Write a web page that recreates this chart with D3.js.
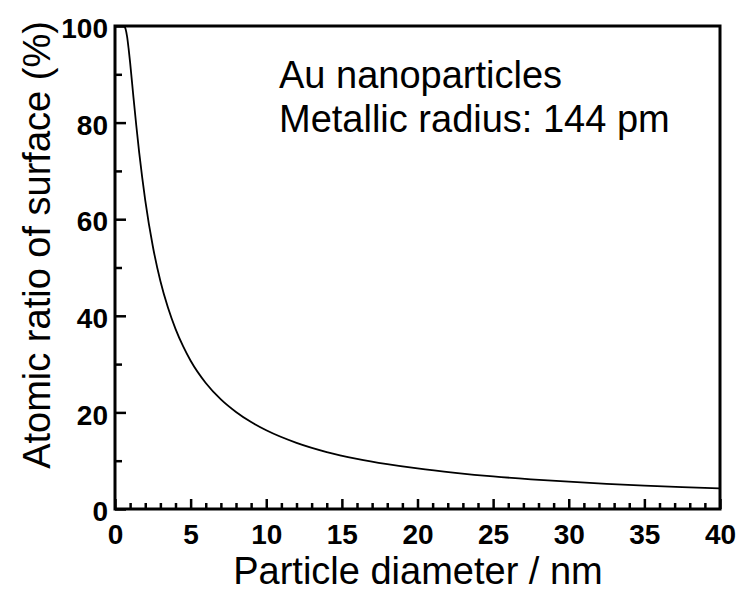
<!DOCTYPE html>
<html>
<head>
<meta charset="utf-8">
<script src="https://cdn.jsdelivr.net/npm/d3@7"></script>
<style>
  html, body { margin: 0; padding: 0; background: #fff; }
  svg { display: block; font-family: "Liberation Sans", Arial, sans-serif; }
</style>
</head>
<body>
<svg id="chart" width="740" height="594"></svg>
<script>
// Data
const diameters = [0.6, 0.7, 0.8, 0.9, 1.0, 1.2, 1.4, 1.6, 1.8, 2.0, 2.5, 3.0, 3.5, 4.0, 4.5, 5.0,
                   6, 7, 8, 9, 10, 12, 14, 16, 18, 20, 22.5, 25, 27.5, 30, 32.5, 35, 37.5, 40];
const surfaceRatio = [99.99, 99.4, 97.8, 95.3, 92.4, 85.9, 79.6, 73.8, 68.6, 63.9, 54.4, 47.2, 41.7, 37.3, 33.7, 30.7,
                      26.1, 22.7, 20.1, 18.0, 16.3, 13.7, 11.8, 10.4, 9.3, 8.4, 7.5, 6.75, 6.15, 5.65, 5.22, 4.86, 4.54, 4.26];
const xTicks = [0, 5, 10, 15, 20, 25, 30, 35, 40];
const yTicks = [0, 20, 40, 60, 80, 100];
const xMinorTicks = d3.range(0, 41, 1).filter(v => v % 5 !== 0);
const yMinorTicks = [10, 30, 50, 70, 90];
const annotationLines = ["Au nanoparticles", "Metallic radius: 144 pm"];
const xTitle = "Particle diameter / nm";
const yTitle = "Atomic ratio of surface (%)";

const svg = d3.select("#chart");
const pL = 115, pR = 720, pT = 26, pB = 509;

const x = d3.scaleLinear().domain([0, 40]).range([pL, pR]);
const y = d3.scaleLinear().domain([0, 100]).range([pB, pT]);

svg.append("defs").append("clipPath").attr("id", "plotclip")
  .append("rect").attr("x", pL).attr("y", pT).attr("width", pR - pL).attr("height", pB - pT);

// Curve
const pts = diameters.map((d, i) => [d, surfaceRatio[i]]);
svg.append("path")
  .datum(pts)
  .attr("clip-path", "url(#plotclip)")
  .attr("fill", "none")
  .attr("stroke", "#000")
  .attr("stroke-width", 1.8)
  .attr("d", d3.line().x(d => x(d[0])).y(d => y(d[1])).curve(d3.curveMonotoneX));

// Frame
svg.append("rect")
  .attr("x", pL).attr("y", pT).attr("width", pR - pL).attr("height", pB - pT)
  .attr("fill", "none").attr("stroke", "#000").attr("stroke-width", 3);

// X axis major
const xAxis = svg.append("g").attr("transform", `translate(0,${pB})`)
  .call(d3.axisBottom(x).tickValues(xTicks).tickSizeInner(-10).tickSizeOuter(0).tickPadding(20));
// X axis minor
const xMinor = svg.append("g").attr("transform", `translate(0,${pB})`)
  .call(d3.axisBottom(x).tickValues(xMinorTicks).tickSizeInner(-6).tickSizeOuter(0).tickFormat(""));
// Y axis major
const yAxis = svg.append("g").attr("transform", `translate(${pL},0)`)
  .call(d3.axisLeft(y).tickValues(yTicks).tickSizeInner(-11).tickSizeOuter(0).tickPadding(24));
// Y axis minor
const yMinor = svg.append("g").attr("transform", `translate(${pL},0)`)
  .call(d3.axisLeft(y).tickValues(yMinorTicks).tickSizeInner(-7).tickSizeOuter(0).tickFormat(""));

[xAxis, xMinor, yAxis, yMinor].forEach(g => {
  g.select(".domain").remove();
  g.attr("font-size", 28).attr("font-family", "'Liberation Sans', Arial, sans-serif");
  g.selectAll(".tick line").attr("stroke", "#000").attr("stroke-width", 2.5);
});
xAxis.selectAll(".tick text")
  .attr("font-weight", "bold").attr("fill", "#000")
  .attr("dy", "0.71em").attr("y", 15);
yAxis.selectAll(".tick text")
  .attr("font-weight", "bold").attr("fill", "#000")
  .attr("dy", "0.42em").attr("x", -7);

// Axis titles
svg.append("text")
  .attr("x", 418).attr("y", 584)
  .attr("text-anchor", "middle").attr("font-size", 38).attr("fill", "#000")
  .text(xTitle);
svg.append("text")
  .attr("transform", `translate(50,245) rotate(-90)`)
  .attr("text-anchor", "middle").attr("font-size", 38).attr("fill", "#000")
  .text(yTitle);

// Annotation
svg.append("g").selectAll("text").data(annotationLines).join("text")
  .attr("x", 279).attr("y", (d, i) => 88 + i * 44)
  .attr("font-size", 38).attr("fill", "#000")
  .text(d => d);
</script>
</body>
</html>
